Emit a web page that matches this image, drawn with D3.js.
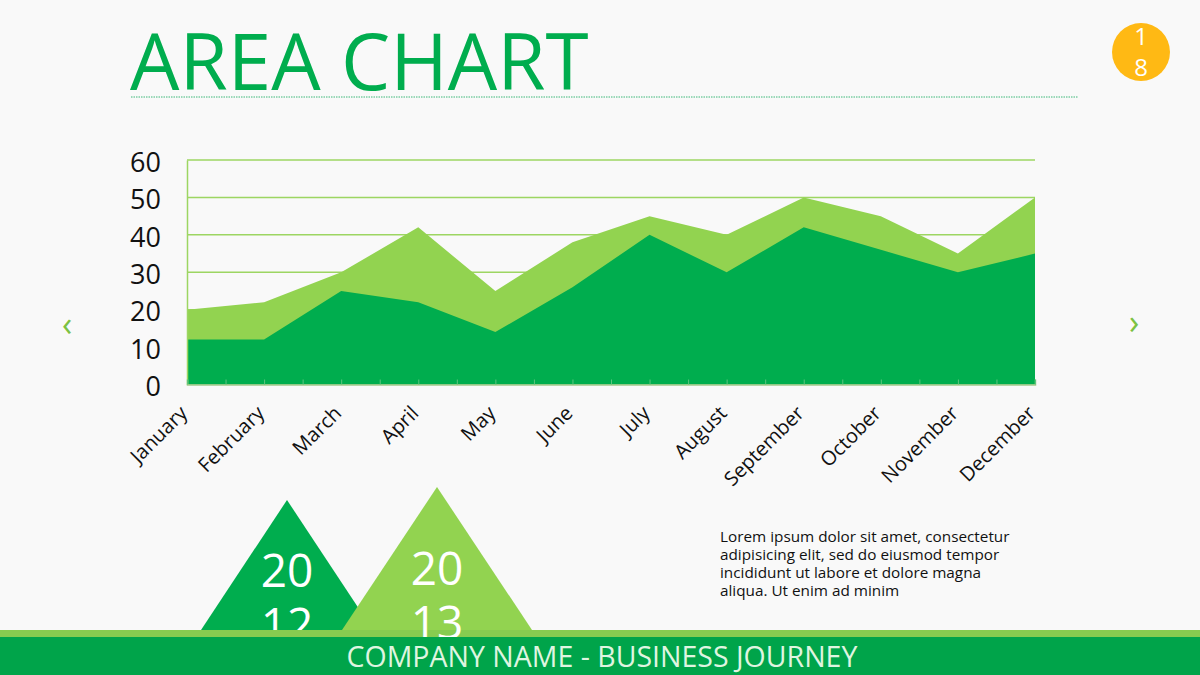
<!DOCTYPE html>
<html lang="en">
  <head>
    <meta charset="UTF-8" />
    <title>Area Chart</title>
    <script src="https://cdn.jsdelivr.net/npm/d3@7"></script>
    <style>
      html, body { margin: 0; padding: 0; background: #f9f9f9; overflow: hidden; }
      svg { display: block; font-family: "Open Sans", sans-serif; }
    </style>
  </head>
  <body>
    <div id="container"></div>
    <script>
      // chart data
      const months = ['January', 'February', 'March', 'April', 'May', 'June', 'July',
        'August', 'September', 'October', 'November', 'December']
      const values2013 = [20, 22, 30, 42, 25, 38, 45, 40, 50, 45, 35, 50]
      const values2012 = [12, 12, 25, 22, 14, 26, 40, 30, 42, 36, 30, 35]
      const yTicks = [0, 10, 20, 30, 40, 50, 60]
      const loremLines = [
        'Lorem ipsum dolor sit amet, consectetur',
        'adipisicing elit, sed do eiusmod tempor',
        'incididunt ut labore et dolore magna',
        'aliqua. Ut enim ad minim'
      ]

      const width = 1200
      const height = 675
      const marginTop = 160
      const marginLeft = 187
      const plotRight = 1035
      const plotBottom = 384.5

      const darkGreen = '#00ad4e'
      const lightGreen = '#92d350'

      const svg = d3.create('svg')
        .attr('width', width)
        .attr('height', height)
        .attr('viewBox', [0, 0, width, height])

      // clip for the year labels, they disappear behind the footer
      const defs = svg.append('defs')
      defs.append('clipPath').attr('id', 'clip2012')
        .append('rect').attr('width', width).attr('height', 630)
      defs.append('clipPath').attr('id', 'clip2013')
        .append('rect').attr('width', width).attr('height', 637)

      // title
      svg.append('text')
        .attr('x', 130)
        .attr('y', 90)
        .attr('font-size', 78.2)
        .attr('fill', darkGreen)
        .text('AREA CHART')

      svg.append('line')
        .attr('x1', 131).attr('x2', 1078)
        .attr('y1', 97).attr('y2', 97)
        .attr('stroke', '#3cb878')
        .attr('stroke-width', 1)
        .attr('stroke-dasharray', '1.5 1')

      // page number
      svg.append('circle')
        .attr('cx', 1141).attr('cy', 52).attr('r', 29)
        .attr('fill', '#ffb914')
      svg.selectAll('.page')
        .data(['1', '8'])
        .join('text')
        .attr('class', 'page')
        .attr('x', 1141)
        .attr('y', (d, i) => 45 + i * 31)
        .attr('text-anchor', 'middle')
        .attr('font-size', 24)
        .attr('fill', '#fff')
        .text(d => d)

      // prev / next arrows
      svg.selectAll('.arrow')
        .data(['\u2039', '\u203A'])
        .join('text')
        .attr('class', 'arrow')
        .attr('x', (d, i) => i ? 1134 : 67)
        .attr('y', (d, i) => i ? 334 : 336)
        .attr('text-anchor', 'middle')
        .attr('font-size', 34)
        .attr('fill', '#7cc242')
        .text(d => d)

      // scales
      const xScale = d3.scalePoint()
        .domain(months)
        .range([marginLeft, plotRight])

      const yScale = d3.scaleLinear()
        .domain([0, 60])
        .range([plotBottom, marginTop])

      // gridlines
      svg.append('g')
        .selectAll('line')
        .data(yTicks.filter(d => d > 0))
        .join('line')
        .attr('x1', marginLeft)
        .attr('x2', plotRight)
        .attr('y1', d => yScale(d))
        .attr('y2', d => yScale(d))
        .attr('stroke', '#9dd662')
        .attr('stroke-width', 1.5)

      // areas, the 2013 one sits behind
      const area = d3.area()
        .x((d, i) => xScale(months[i]))
        .y0(yScale(0))
        .y1(d => yScale(d))

      svg.append('path').attr('d', area(values2013)).attr('fill', lightGreen)
      svg.append('path').attr('d', area(values2012)).attr('fill', darkGreen)

      // y axis
      const yAxis = svg.append('g')
        .attr('transform', `translate(${marginLeft}, 0)`)
        .call(d3.axisLeft(yScale).tickValues(yTicks).tickSize(0).tickPadding(26))
      yAxis.select('.domain').attr('stroke', '#9dd662').attr('stroke-width', 1.5)
      yAxis.selectAll('text')
        .attr('font-family', '"Open Sans", sans-serif')
        .attr('font-size', 27)
        .attr('fill', '#111')
        .attr('dy', '0.38em')
        .attr('transform', 'translate(0, 1)')

      // little ticks between the months, drawn up into the area
      const tickScale = d3.scaleLinear()
        .domain([0, months.length - 1])
        .range([marginLeft, plotRight])
      const tickAxis = svg.append('g')
        .attr('transform', `translate(0, ${plotBottom})`)
        .call(d3.axisTop(tickScale)
          .tickValues(d3.range(0, months.length - 0.5, 0.5))
          .tickSize(5)
          .tickFormat(''))
      tickAxis.select('.domain').attr('stroke', '#a3c98a').attr('stroke-width', 1.5)
      tickAxis.selectAll('line').attr('stroke', '#5cc47e')

      // month labels
      const xAxis = svg.append('g')
        .attr('transform', `translate(0, ${plotBottom})`)
        .call(d3.axisBottom(xScale).tickSize(0).tickPadding(0))
      xAxis.select('.domain').remove()
      xAxis.selectAll('text')
        .attr('font-family', '"Open Sans", sans-serif')
        .attr('font-size', 20)
        .attr('fill', '#111')
        .attr('text-anchor', 'end')
        .attr('dy', 0)
        .attr('transform', 'translate(1, 30) rotate(-45)')

      // year triangles
      const triangle = (cx, top, halfBase, bottom) =>
        `M${cx},${top}L${cx + halfBase},${bottom}L${cx - halfBase},${bottom}Z`

      svg.append('path').attr('d', triangle(287, 500, 86, 630)).attr('fill', darkGreen)
      svg.append('g').attr('clip-path', 'url(#clip2012)')
        .selectAll('text')
        .data(['20', '12'])
        .join('text')
        .attr('x', 287)
        .attr('y', (d, i) => 587 + i * 54)
        .attr('text-anchor', 'middle')
        .attr('font-size', 46)
        .attr('fill', '#fff')
        .text(d => d)

      svg.append('rect')
        .attr('x', 0).attr('y', 630).attr('width', width).attr('height', 7)
        .attr('fill', '#86cc50')

      svg.append('path').attr('d', triangle(437, 487, 95, 630)).attr('fill', lightGreen)
      svg.append('g').attr('clip-path', 'url(#clip2013)')
        .selectAll('text')
        .data(['20', '13'])
        .join('text')
        .attr('x', 437)
        .attr('y', (d, i) => 585 + i * 54)
        .attr('text-anchor', 'middle')
        .attr('font-size', 46)
        .attr('fill', '#fff')
        .text(d => d)

      // body copy
      svg.append('g')
        .selectAll('text')
        .data(loremLines)
        .join('text')
        .attr('x', 720)
        .attr('y', (d, i) => 542 + i * 18)
        .attr('font-size', 15.3)
        .attr('fill', '#111')
        .text(d => d)

      // footer
      svg.append('rect')
        .attr('x', 0).attr('y', 637).attr('width', width).attr('height', 38)
        .attr('fill', '#00a44a')
      svg.append('text')
        .attr('x', 602)
        .attr('y', 667)
        .attr('text-anchor', 'middle')
        .attr('font-size', 28.5)
        .attr('fill', '#dff5e0')
        .text('COMPANY NAME - BUSINESS JOURNEY')

      container.append(svg.node())
    </script>
  </body>
</html>
